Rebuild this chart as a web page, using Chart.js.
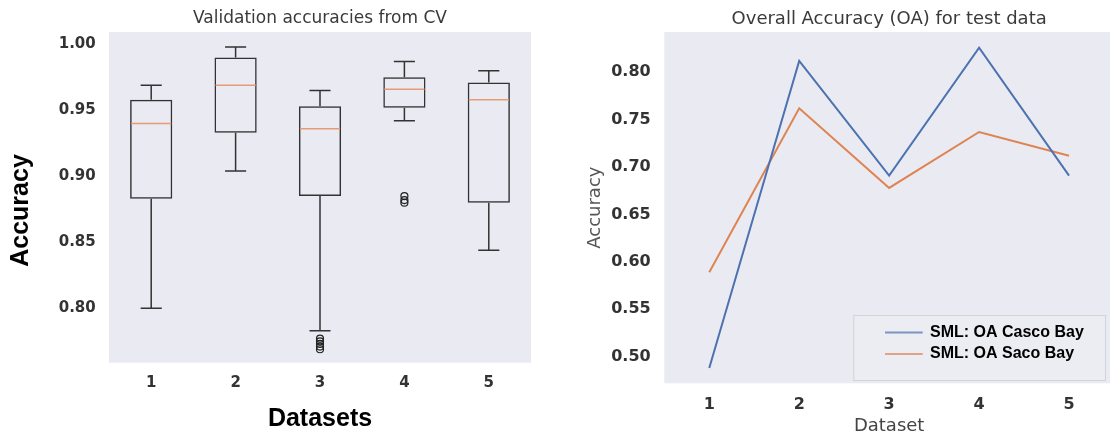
<!DOCTYPE html>
<html>
<head>
<meta charset="utf-8">
<script src="https://cdn.jsdelivr.net/npm/chart.js@4.4.1/dist/chart.umd.min.js"></script>
<style>
  html, body { margin: 0; padding: 0; background: #fff; overflow: hidden; width: 1110px; height: 436px; }
  #cvChart { position: absolute; left: 0; top: 0; }
  #oaChart { position: absolute; left: 555px; top: 0; }
</style>
</head>
<body>
<canvas id="cvChart" width="555" height="436"></canvas>
<canvas id="oaChart" width="565" height="436"></canvas>
<script>
// ---- data ----
const datasetLabels = ['1', '2', '3', '4', '5'];

// validation accuracies from CV (box plot stats)
const whiskerLow  = [0.800, 0.904, 0.783, 0.942, 0.844];
const boxQ1       = [0.883, 0.933, 0.885, 0.952, 0.880];
const boxMedian   = [0.940, 0.969, 0.936, 0.966, 0.958];
const boxQ3       = [0.958, 0.990, 0.953, 0.975, 0.971];
const whiskerHigh = [0.969, 0.998, 0.965, 0.987, 0.980];
const outliers    = [[], [], [0.777, 0.775, 0.773, 0.771, 0.769], [0.885, 0.882, 0.880], []];
const cvTicks     = [0.80, 0.85, 0.90, 0.95, 1.00];

// overall accuracy on test data
const oaCasco = [0.488, 0.812, 0.691, 0.826, 0.691];
const oaSaco  = [0.589, 0.762, 0.678, 0.737, 0.712];
const oaTicks = [0.50, 0.55, 0.60, 0.65, 0.70, 0.75, 0.80];

const tickFont = size => ({ family: 'DejaVu Sans', size: size, weight: 'bold' });

// grey plot background (seaborn darkgrid look)
const plotBg = {
  id: 'plotBg',
  beforeDraw(chart) {
    const { ctx, chartArea: a } = chart;
    ctx.save();
    ctx.fillStyle = '#eaeaf2';
    ctx.fillRect(a.left, a.top, a.right - a.left, a.bottom - a.top);
    ctx.restore();
  }
};

// title centred over the plot area (not the whole canvas)
const areaTitle = {
  id: 'areaTitle',
  afterDraw(chart, args, opts) {
    const { ctx, chartArea: a } = chart;
    ctx.save();
    ctx.font = opts.size + 'px "DejaVu Sans", sans-serif';
    ctx.fillStyle = '#3a3a3a';
    ctx.textAlign = 'center';
    ctx.textBaseline = 'middle';
    ctx.fillText(opts.text, (a.left + a.right) / 2, opts.y);
    ctx.restore();
  }
};

// whiskers, caps and medians of the boxes
const boxParts = {
  id: 'boxParts',
  afterDatasetsDraw(chart) {
    const { ctx, scales: { x, y } } = chart;
    ctx.save();
    ctx.lineWidth = 1.5;
    datasetLabels.forEach((lab, i) => {
      const cx = x.getPixelForValue(i);
      const capL = x.getPixelForValue(i - 0.125), capR = x.getPixelForValue(i + 0.125);
      const boxL = x.getPixelForValue(i - 0.25), boxR = x.getPixelForValue(i + 0.25);
      const hi = y.getPixelForValue(whiskerHigh[i]), lo = y.getPixelForValue(whiskerLow[i]);
      ctx.strokeStyle = '#333';
      ctx.beginPath();
      ctx.moveTo(cx, y.getPixelForValue(boxQ3[i])); ctx.lineTo(cx, hi);
      ctx.moveTo(cx, y.getPixelForValue(boxQ1[i])); ctx.lineTo(cx, lo);
      ctx.moveTo(capL, hi); ctx.lineTo(capR, hi);
      ctx.moveTo(capL, lo); ctx.lineTo(capR, lo);
      ctx.stroke();
      const med = y.getPixelForValue(boxMedian[i]);
      ctx.strokeStyle = '#e59b74';
      ctx.beginPath();
      ctx.moveTo(boxL + 1, med); ctx.lineTo(boxR - 1, med);
      ctx.stroke();
    });
    ctx.restore();
  }
};

// big bold y label on the left chart
const sideLabel = {
  id: 'sideLabel',
  afterDraw(chart) {
    const { ctx } = chart;
    ctx.save();
    ctx.translate(21, 210.5);
    ctx.rotate(-Math.PI / 2);
    ctx.font = 'bold 25px "Liberation Sans", Arial, sans-serif';
    ctx.fillStyle = '#000';
    ctx.textAlign = 'center';
    ctx.textBaseline = 'middle';
    ctx.fillText('Accuracy', 0, 0);
    ctx.restore();
  }
};

// legend inside the plot, lower right
const legendColors = ['rgba(76,114,176,0.7)', 'rgba(221,132,82,0.7)'];
const boxLegend = {
  id: 'boxLegend',
  afterDraw(chart) {
    const { ctx, chartArea: a } = chart;
    const w = 252.7, h = 66;
    const left = a.right - 8 - w, top = a.bottom - 2.3 - h;
    ctx.save();
    ctx.fillStyle = 'rgba(236,236,243,0.9)';
    ctx.fillRect(left, top, w, h);
    ctx.strokeStyle = '#d2d2d8';
    ctx.lineWidth = 1;
    ctx.strokeRect(left + 0.5, top + 0.5, w - 1, h - 1);
    ctx.font = 'bold 16px "Liberation Sans", Arial, sans-serif';
    ctx.textBaseline = 'middle';
    chart.data.datasets.forEach((ds, i) => {
      const yy = top + 17.5 + i * 21.4;
      ctx.strokeStyle = legendColors[i];
      ctx.lineWidth = 2;
      ctx.beginPath();
      ctx.moveTo(left + 31.7, yy); ctx.lineTo(left + 69.4, yy);
      ctx.stroke();
      ctx.fillStyle = '#000';
      ctx.fillText(ds.label, left + 76.7, yy);
    });
    ctx.restore();
  }
};

// ---- left: box plot ----
new Chart(document.getElementById('cvChart'), {
  type: 'bar',
  data: {
    labels: datasetLabels,
    datasets: [
      {
        label: 'box',
        data: boxQ1.map((q, i) => [q, boxQ3[i]]),
        backgroundColor: 'rgba(0,0,0,0)',
        borderColor: '#333',
        borderWidth: 1.5,
        borderSkipped: false,
        categoryPercentage: 1,
        barPercentage: 0.5,
        grouped: false,
      },
      {
        type: 'scatter',
        label: 'outliers',
        data: outliers.flatMap((vals, i) => vals.map(v => ({ x: datasetLabels[i], y: v }))),
        pointStyle: 'circle',
        pointRadius: 3.5,
        pointBackgroundColor: 'rgba(0,0,0,0)',
        pointBorderColor: '#222',
        pointBorderWidth: 1.2,
      }
    ]
  },
  options: {
    responsive: false,
    animation: false,
    events: [],
    layout: { padding: { left: 0, right: 24, top: 32, bottom: 0 } },
    plugins: {
      legend: { display: false },
      tooltip: { enabled: false },
      areaTitle: { text: 'Validation accuracies from CV', size: 17, y: 19 }
    },
    scales: {
      x: {
        type: 'category',
        offset: true,
        afterFit: s => { s.height = 73.3; },
        grid: { display: false, drawTicks: false },
        border: { display: false },
        ticks: { padding: 11, color: '#333', font: tickFont(15) },
        title: {
          display: true, text: 'Datasets', color: '#000',
          font: { family: 'Liberation Sans', size: 25, weight: 'bold', lineHeight: 1 },
          padding: { top: 0, bottom: 4 }
        }
      },
      y: {
        min: 0.7588, max: 1.0093,
        afterBuildTicks: s => { s.ticks = cvTicks.map(v => ({ value: v })); },
        afterFit: s => { s.width = 109; },
        grid: { display: false, drawTicks: false },
        border: { display: false },
        ticks: { padding: 13.3, color: '#333', font: tickFont(15), callback: v => v.toFixed(2) }
      }
    }
  },
  plugins: [plotBg, boxParts, sideLabel, areaTitle]
});

// ---- right: line chart ----
new Chart(document.getElementById('oaChart'), {
  type: 'line',
  data: {
    labels: datasetLabels,
    datasets: [
      { label: 'SML: OA Casco Bay', data: oaCasco, borderColor: '#4c72b0', borderWidth: 2, pointRadius: 0, tension: 0 },
      { label: 'SML: OA Saco Bay', data: oaSaco, borderColor: '#dd8452', borderWidth: 2, pointRadius: 0, tension: 0 }
    ]
  },
  options: {
    responsive: false,
    animation: false,
    events: [],
    layout: { padding: { left: 0, right: 6, top: 32, bottom: 0 } },
    plugins: {
      legend: { display: false },
      tooltip: { enabled: false },
      areaTitle: { text: 'Overall Accuracy (OA) for test data', size: 18, y: 19 }
    },
    scales: {
      x: {
        type: 'category',
        offset: true,
        afterFit: s => { s.height = 52.7; },
        grid: { display: false, drawTicks: false },
        border: { display: false },
        ticks: { padding: 12, color: '#333', font: tickFont(16) },
        title: {
          display: true, text: 'Dataset', color: '#444',
          font: { family: 'DejaVu Sans', size: 18, weight: 'normal', lineHeight: 1 },
          padding: { top: 0, bottom: 0.3 }
        }
      },
      y: {
        min: 0.4719, max: 0.8425,
        afterBuildTicks: s => { s.ticks = oaTicks.map(v => ({ value: v })); },
        afterFit: s => { s.width = 109.3; },
        grid: { display: false, drawTicks: false },
        border: { display: false },
        ticks: { padding: 13.6, color: '#333', font: tickFont(16), callback: v => v.toFixed(2) },
        title: {
          display: true, text: 'Accuracy', color: '#555',
          font: { family: 'DejaVu Sans', size: 18, weight: 'normal', lineHeight: 1 },
          padding: { top: 31, bottom: 0 }
        }
      }
    }
  },
  plugins: [plotBg, boxLegend, areaTitle]
});
</script>
</body>
</html>
